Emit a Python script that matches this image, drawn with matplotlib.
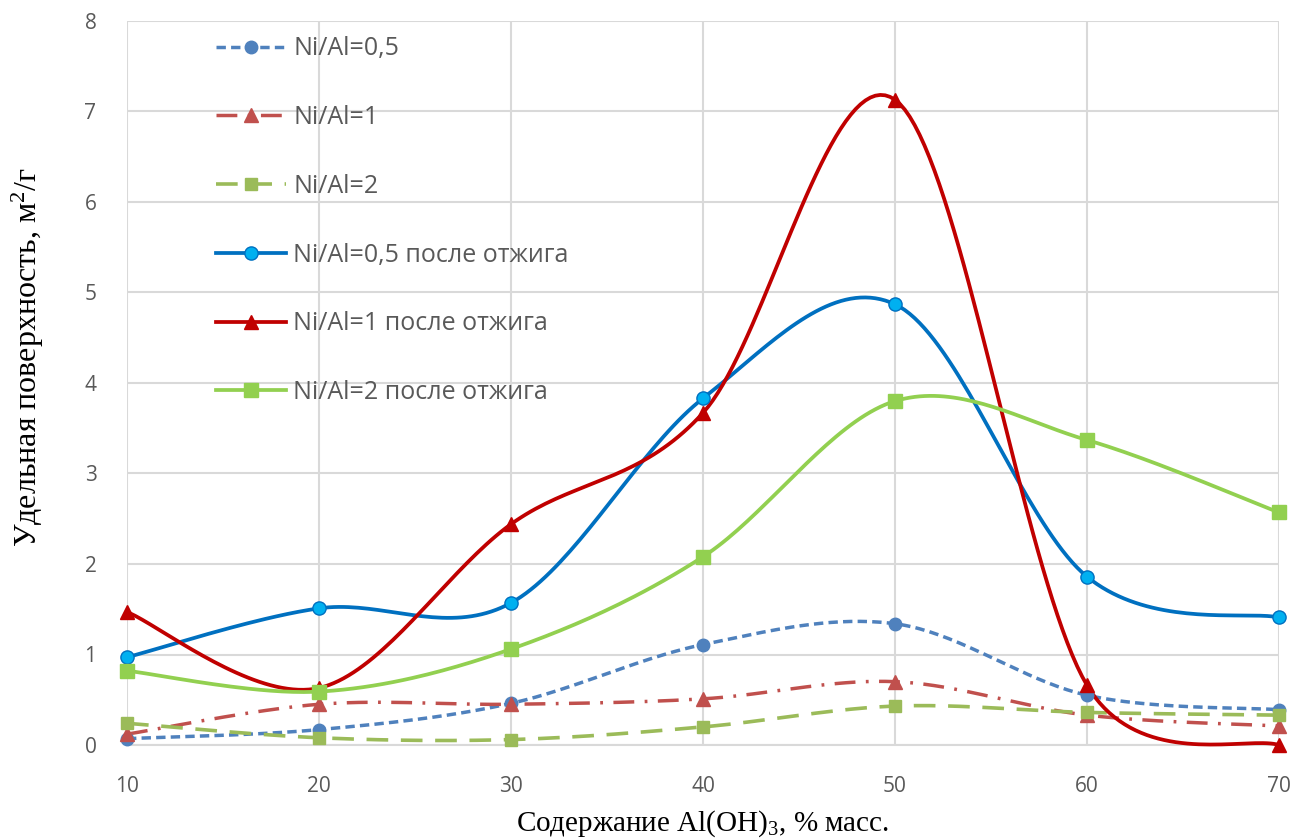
import numpy as np
import matplotlib
matplotlib.use("Agg")
import matplotlib.pyplot as plt

plt.rcParams["mathtext.fontset"] = "custom"
plt.rcParams["mathtext.rm"] = "Liberation Serif"
plt.rcParams["mathtext.it"] = "Liberation Serif:italic"

# ------------------------------------------------------------------
# data
# ------------------------------------------------------------------
x_vals = [10, 20, 30, 40, 50, 60, 70]

ni05 = [0.07, 0.17, 0.46, 1.11, 1.34, 0.55, 0.39]
ni1 = [0.12, 0.45, 0.45, 0.51, 0.70, 0.33, 0.21]
ni2 = [0.24, 0.08, 0.06, 0.20, 0.43, 0.36, 0.33]
ni05_ann = [0.97, 1.51, 1.57, 3.83, 4.87, 1.86, 1.41]
ni1_ann = [1.47, 0.63, 2.44, 3.67, 7.13, 0.66, 0.0]
ni2_ann = [0.82, 0.59, 1.06, 2.08, 3.80, 3.37, 2.57]

labels = ["Ni/Al=0,5", "Ni/Al=1", "Ni/Al=2",
          "Ni/Al=0,5 после отжига", "Ni/Al=1 после отжига",
          "Ni/Al=2 после отжига"]

X_LIM = (10, 70)
Y_LIM = (0, 8)


def smooth(xs, ys, sx, sy, n=40):
    # Excel-like smoothed line: bezier segments, control arms 1/6 of the
    # neighbour chord, limited to half of the segment (in screen units)
    xs = np.asarray(xs, float) * sx
    ys = np.asarray(ys, float) * sy
    P = np.column_stack([xs, ys])
    P = np.vstack([P[0], P, P[-1]])
    t = np.linspace(0, 1, n)[:, None]
    out = []
    for i in range(1, len(P) - 2):
        p0, p1, p2, p3 = P[i - 1], P[i], P[i + 1], P[i + 2]
        d12 = np.hypot(*(p2 - p1))
        d02 = np.hypot(*(p2 - p0))
        d13 = np.hypot(*(p3 - p1))
        f = 1 / 6.0
        if d02 / 6.0 > d12 / 2.0:
            f = d12 / (2.0 * d02)
        g = 1 / 6.0
        if d13 / 6.0 > d12 / 2.0:
            g = d12 / (2.0 * d13)
        c1 = p1 + f * (p2 - p0)
        c2 = p2 - g * (p3 - p1)
        b = ((1 - t) ** 3 * p1 + 3 * (1 - t) ** 2 * t * c1
             + 3 * (1 - t) * t ** 2 * c2 + t ** 3 * p2)
        out.append(b)
    out = np.vstack(out)
    return out[:, 0] / sx, out[:, 1] / sy


fig = plt.figure(figsize=(12.91, 8.40), dpi=100)
ax = fig.add_axes([127 / 1291, 95 / 840, 1152 / 1291, 724 / 840])

# pixels per data unit, used for the smoothing
px_x = 1152 / (X_LIM[1] - X_LIM[0])
px_y = 724 / (Y_LIM[1] - Y_LIM[0])

styles = [
    dict(data=ni05, color="#4F81BD", mfc="#4F81BD", mec="#4F81BD",
         marker="o", ls=(0, (2.7, 1.5)), lw=2.5, ms=9),
    dict(data=ni1, color="#C0504D", mfc="#C0504D", mec="#C0504D",
         marker="^", ls=(0, (6.0, 3.0, 0.8, 3.0)), lw=2.5, ms=10),
    dict(data=ni2, color="#9BBB59", mfc="#9BBB59", mec="#9BBB59",
         marker="s", ls=(0, (6.0, 3.5)), lw=2.6, ms=9),
    dict(data=ni05_ann, color="#0070C0", mfc="#00B0F0", mec="#0070C0",
         marker="o", ls="-", lw=2.7, ms=9.5),
    dict(data=ni1_ann, color="#C00000", mfc="#C00000", mec="#C00000",
         marker="^", ls="-", lw=2.7, ms=10),
    dict(data=ni2_ann, color="#92D050", mfc="#92D050", mec="#92D050",
         marker="s", ls="-", lw=2.7, ms=9.5),
]

handles = []
for st, lab in zip(styles, labels):
    sx, sy = smooth(x_vals, st["data"], px_x, px_y)
    ax.plot(sx, sy, color=st["color"], ls=st["ls"], lw=st["lw"],
            clip_on=False, zorder=3)
    ax.plot(x_vals, st["data"], ls="none", marker=st["marker"],
            mfc=st["mfc"], mec=st["mec"], ms=st["ms"], mew=1,
            clip_on=False, zorder=4)
    h, = ax.plot([], [], color=st["color"], ls=st["ls"], lw=st["lw"],
                 marker=st["marker"], mfc=st["mfc"], mec=st["mec"],
                 ms=st["ms"], mew=1)
    handles.append(h)

ax.set_xlim(*X_LIM)
ax.set_ylim(*Y_LIM)
ax.set_xticks(x_vals)
ax.set_yticks(range(0, 9))
ax.grid(True, color="#D9D9D9", lw=1.5)
ax.set_axisbelow(True)
for side in ["top", "right", "left"]:
    ax.spines[side].set_visible(False)
ax.spines["bottom"].set_color("#D9D9D9")
ax.spines["bottom"].set_linewidth(1.5)
ax.tick_params(length=0, labelsize=15, labelcolor="#595959")
ax.tick_params(axis="x", pad=22)
ax.tick_params(axis="y", pad=22)
for t in ax.get_xticklabels() + ax.get_yticklabels():
    t.set_family("Open Sans")

ax.set_xlabel("Содержание Al(OH)$_3$, % масс.", family="Liberation Serif",
              fontsize=21, va="center")
ax.xaxis.set_label_coords(0.5, -0.108)
ax.set_ylabel("Удельная поверхность, м$^2$/г", family="Liberation Serif",
              fontsize=23, va="center")
ax.yaxis.set_label_coords(-0.086, 0.536)

leg = ax.legend(handles, labels, loc="upper left",
                bbox_to_anchor=(0.0665, 0.996), frameon=False,
                handlelength=2.8, handletextpad=0.28, labelspacing=1.75,
                borderpad=0.0, prop={"family": "Open Sans", "size": 18})
for t in leg.get_texts():
    t.set_color("#595959")

fig.savefig("out.png", dpi=100)
